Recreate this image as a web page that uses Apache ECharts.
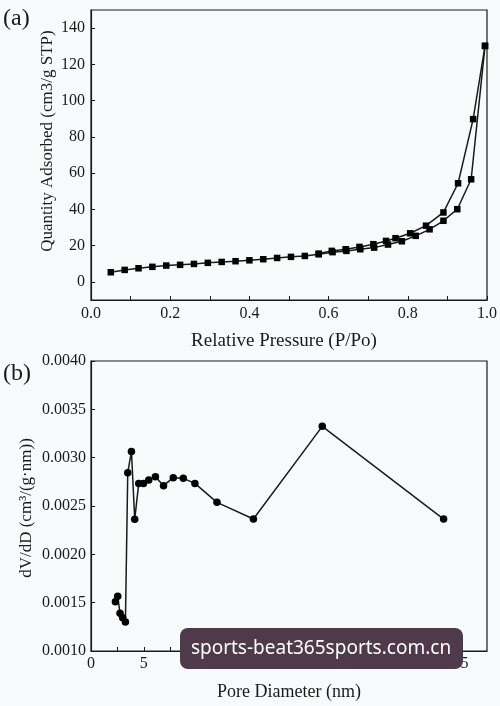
<!DOCTYPE html>
<html>
<head>
<meta charset="utf-8">
<script src="https://cdn.jsdelivr.net/npm/echarts@6/dist/echarts.min.js"></script>
<style>
html,body{margin:0;padding:0;background:#f8fbfc;}
#c{width:500px;height:706px;}
</style>
</head>
<body>
<div id="c"></div>
<script>
// (a) N2 isotherm
var adsP = [0.05,0.085,0.12,0.155,0.19,0.225,0.26,0.295,0.33,0.365,0.40,0.435,0.47,0.505,0.54,0.575,0.61,0.645,0.68,0.715,0.75,0.785,0.82,0.855,0.89,0.925,0.96,0.995];
var adsQ = [5.3,6.6,7.5,8.3,9.0,9.4,9.9,10.5,11.0,11.4,11.9,12.5,13.2,13.8,14.3,15.2,16.4,17.1,18.0,18.9,20.6,22.4,25.4,29.0,33.7,40.1,56.6,130.2];
var desP = [0.995,0.965,0.927,0.89,0.846,0.806,0.769,0.745,0.713,0.678,0.643,0.608,0.575];
var desQ = [130.2,89.8,54.4,38.3,31.0,26.8,24.1,22.6,20.8,19.3,18.0,17.1,15.6];
var topXTicks = [0,0.2,0.4,0.6,0.8,1.0];
var topXMinor = [0,0.1,0.2,0.3,0.4,0.5,0.6,0.7,0.8,0.9,1.0];
var topYTicks = [0,20,40,60,80,100,120,140];

// (b) pore size distribution
var poreD = [2.31,2.53,2.75,3.0,3.26,3.48,3.83,4.14,4.52,4.97,5.47,6.1,6.87,7.79,8.74,9.84,11.93,15.38,21.9,33.39];
var dVdD = [0.00151,0.001566,0.00139,0.001345,0.0013,0.002844,0.003065,0.002362,0.002734,0.002734,0.002768,0.002803,0.00271,0.002793,0.002786,0.002734,0.002538,0.002365,0.003324,0.002365];
var botXTicks = [0,5,10,15,20,25,30,35];
var botXMinor = [0,2.5,5,7.5,10,12.5,15,17.5,20,22.5,25,27.5,30,32.5,35];
var botYTicks = [0.001,0.0015,0.002,0.0025,0.003,0.0035,0.004];

var serif = '"Liberation Serif","DejaVu Serif",serif';
var ink = '#1a1a1a';

function pairs(xs, ys){ return xs.map(function(x,i){ return [x, ys[i]]; }); }

var chart = echarts.init(document.getElementById('c'), null, {renderer:'canvas'});

function axisBase(extra){
  var o = {
    type:'value',
    axisLine:{show:true, onZero:false, lineStyle:{color:ink, width:1.2}},
    splitLine:{show:false},
    axisLabel:{color:ink, fontFamily:serif, fontSize:16, margin:6},
    axisTick:{show:true, inside:true, length:4, lineStyle:{color:ink, width:1}}
  };
  for (var k in extra) {
    if (typeof extra[k]==='object' && o[k] && !Array.isArray(extra[k])) {
      for (var j in extra[k]) o[k][j] = extra[k][j];
    } else o[k] = extra[k];
  }
  return o;
}

chart.setOption({
  backgroundColor:'#f8fbfc',
  animation:false,
  grid:[
    {left:91, top:10, width:396, height:290, show:true, borderColor:ink, borderWidth:1.2, backgroundColor:'transparent'},
    {left:91, top:361, width:396, height:290, show:true, borderColor:ink, borderWidth:1.2, backgroundColor:'transparent'}
  ],
  xAxis:[
    axisBase({gridIndex:0, min:0, max:1,
      axisLabel:{customValues:topXTicks, formatter:function(v){return v.toFixed(1);}},
      axisTick:{customValues:topXMinor}}),
    axisBase({gridIndex:1, min:0, max:37.5,
      axisLabel:{customValues:botXTicks, margin:5},
      axisTick:{customValues:botXMinor}})
  ],
  yAxis:[
    axisBase({gridIndex:0, min:-10, max:150,
      axisLabel:{customValues:topYTicks},
      axisTick:{customValues:topYTicks}}),
    axisBase({gridIndex:1, min:0.001, max:0.004,
      axisLabel:{customValues:botYTicks, formatter:function(v){return v.toFixed(4);}, margin:5},
      axisTick:{customValues:botYTicks}})
  ],
  series:[
    {type:'line', xAxisIndex:0, yAxisIndex:0, data:pairs(adsP, adsQ), symbol:'rect', symbolSize:6.5,
      lineStyle:{color:ink, width:1.5}, itemStyle:{color:'#000'}},
    {type:'line', xAxisIndex:0, yAxisIndex:0, data:pairs(desP, desQ), symbol:'rect', symbolSize:6.5,
      lineStyle:{color:ink, width:1.5}, itemStyle:{color:'#000'}},
    {type:'line', xAxisIndex:1, yAxisIndex:1, data:pairs(poreD, dVdD), symbol:'circle', symbolSize:7.5,
      lineStyle:{color:ink, width:1.5}, itemStyle:{color:'#000'}}
  ],
  graphic:[
    {type:'text', x:3, y:7, style:{text:'(a)', font:'24px '+serif, fill:ink}},
    {type:'text', x:3, y:362, style:{text:'(b)', font:'24px '+serif, fill:ink}},
    {type:'text', x:284, y:341, style:{text:'Relative Pressure (P/Po)', font:'19px '+serif, fill:ink, textAlign:'center', textVerticalAlign:'middle'}},
    {type:'text', x:48, y:141, rotation:Math.PI/2, style:{text:'Quantity Adsorbed (cm3/g STP)', font:'17px '+serif, fill:ink, textAlign:'center', textVerticalAlign:'middle'}},
    {type:'text', x:289, y:692, style:{text:'Pore Diameter (nm)', font:'18px '+serif, fill:ink, textAlign:'center', textVerticalAlign:'middle'}},
    {type:'text', x:27, y:508, rotation:Math.PI/2, style:{text:'dV/dD (cm\u00b3/(g\u00b7nm))', font:'17px '+serif, fill:ink, textAlign:'center', textVerticalAlign:'middle'}},
    {type:'rect', shape:{x:180, y:628, width:283, height:41, r:8}, style:{fill:'#4e3a4a'}, z:100},
    {type:'text', x:321, y:649, z:101, style:{text:'sports-beat365sports.com.cn', font:'19px "Noto Sans","Open Sans",sans-serif', fill:'#ffffff', textAlign:'center', textVerticalAlign:'middle'}}
  ]
});
</script>
</body>
</html>
